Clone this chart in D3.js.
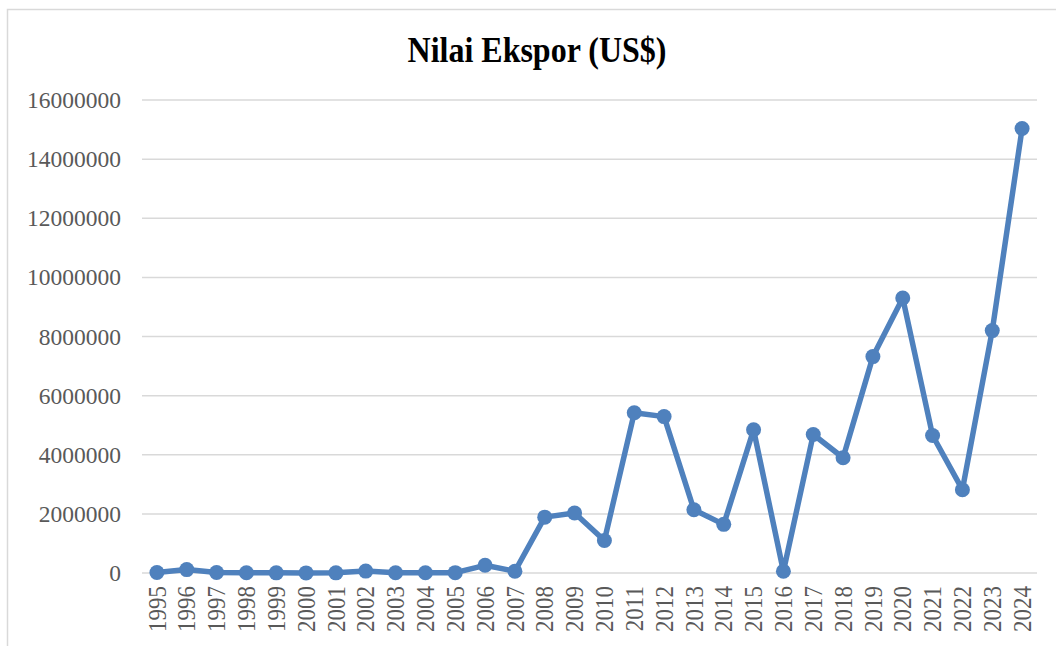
<!DOCTYPE html>
<html>
<head>
<meta charset="utf-8">
<script src="https://cdn.jsdelivr.net/npm/d3@7/dist/d3.min.js"></script>
<style>
  html, body { margin: 0; padding: 0; background: #fff; }
  svg { display: block; }
</style>
</head>
<body>
<svg id="chart" width="1056" height="646"></svg>
<script>
// Export value per year (US$)
const years = ["1995","1996","1997","1998","1999","2000","2001","2002","2003","2004",
               "2005","2006","2007","2008","2009","2010","2011","2012","2013","2014",
               "2015","2016","2017","2018","2019","2020","2021","2022","2023","2024"];
const exportValues = [15000, 115000, 15000, 8000, 5000, 3000, 5000, 65000, 10000, 8000,
                      12000, 260000, 60000, 1890000, 2030000, 1100000, 5420000, 5290000, 2140000, 1645000,
                      4845000, 57000, 4686000, 3900000, 7320000, 9300000, 4650000, 2818000, 8200000, 15035000];
const yTicks = [0, 2000000, 4000000, 6000000, 8000000, 10000000, 12000000, 14000000, 16000000];
const title = "Nilai Ekspor (US$)";

const svg = d3.select("#chart");
const serif = "'Liberation Serif', 'Times New Roman', serif";

// Chart frame
svg.append("rect")
  .attr("x", 7.5).attr("y", 9.5)
  .attr("width", 1060).attr("height", 650)
  .attr("fill", "#fff")
  .attr("stroke", "#d9d9d9").attr("stroke-width", 1.5);

const plot = { left: 142, right: 1037, top: 100, bottom: 573 };

const x = d3.scalePoint().domain(years).range([plot.left, plot.right]).padding(0.5);
const y = d3.scaleLinear().domain([0, 16000000]).range([plot.bottom, plot.top]);

// Gridlines
svg.append("g")
  .selectAll("line")
  .data(yTicks)
  .join("line")
  .attr("x1", plot.left).attr("x2", plot.right)
  .attr("y1", d => y(d)).attr("y2", d => y(d))
  .attr("stroke", "#d9d9d9").attr("stroke-width", 1.5);

// Y axis labels
const yAxis = d3.axisLeft(y).tickValues(yTicks).tickSize(0).tickPadding(21)
  .tickFormat(d3.format("d"));
svg.append("g")
  .attr("transform", `translate(${plot.left},0)`)
  .call(yAxis)
  .call(g => g.select(".domain").remove())
  .selectAll("text")
  .attr("font-family", serif)
  .attr("font-size", 23.5)
  .attr("fill", "#595959");

// X axis labels, rotated
const xAxis = d3.axisBottom(x).tickSize(0).tickPadding(0);
svg.append("g")
  .attr("transform", `translate(0,${plot.bottom})`)
  .call(xAxis)
  .call(g => g.select(".domain").remove())
  .selectAll("text")
  .attr("font-family", serif)
  .attr("font-size", 23)
  .attr("fill", "#595959")
  .attr("text-anchor", "end")
  .attr("dy", null)
  .attr("transform", "translate(0,13) rotate(-90) scale(1,1.05)")
  .attr("x", 0).attr("y", 0)
  .attr("dominant-baseline", "central");

// Line
const line = d3.line()
  .x((d, i) => x(years[i]))
  .y(d => y(d));
svg.append("path")
  .datum(exportValues)
  .attr("d", line)
  .attr("fill", "none")
  .attr("stroke", "#4f81bd")
  .attr("stroke-width", 5.5)
  .attr("stroke-linejoin", "round");

// Markers
svg.append("g")
  .selectAll("circle")
  .data(exportValues)
  .join("circle")
  .attr("cx", (d, i) => x(years[i]))
  .attr("cy", d => y(d))
  .attr("r", 7.5)
  .attr("fill", "#4f81bd");

// Title
svg.append("text")
  .attr("transform", "translate(537,62) scale(1,1.15)")
  .attr("text-anchor", "middle")
  .attr("font-family", serif)
  .attr("font-weight", "bold")
  .attr("font-size", 32)
  .attr("fill", "#000")
  .text(title);
</script>
</body>
</html>
